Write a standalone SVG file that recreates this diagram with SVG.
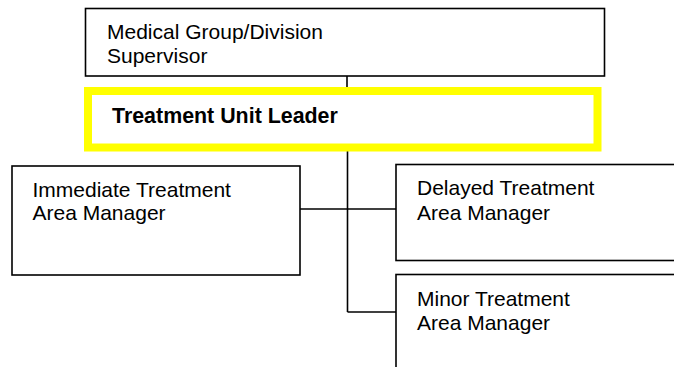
<svg xmlns="http://www.w3.org/2000/svg" width="674" height="367" viewBox="0 0 674 367">
<style>
.box{fill:#fff;stroke:#000;stroke-width:1.6}
.lead{fill:#fff;stroke:#ffff00;stroke-width:8}
.t{font-family:"Liberation Sans",Arial,sans-serif;font-size:21px;fill:#000}
.b{font-weight:bold;font-size:21.4px}
.c{fill:none;stroke:#000;stroke-width:1.6}
</style>
<rect width="674" height="367" fill="#fff"/>
<g id="connectors">
<line class="c" x1="347" y1="76" x2="347" y2="88"/>
<line class="c" x1="347.5" y1="151" x2="347.5" y2="312"/>
<line class="c" x1="300" y1="209" x2="396" y2="209"/>
<line class="c" x1="347.5" y1="312" x2="396" y2="312"/>
</g>
<g id="supervisor">
<rect class="box" x="85.5" y="8.5" width="519" height="67.5"/>
<text class="t" x="107" y="39.3">Medical Group/Division</text>
<text class="t" x="107" y="62.5">Supervisor</text>
</g>
<g id="leader">
<rect class="lead" x="88" y="91" width="509.5" height="56.5"/>
<text class="t b" x="112" y="122.7">Treatment Unit Leader</text>
</g>
<g id="immediate">
<rect class="box" x="12" y="166" width="288" height="109"/>
<text class="t" x="32.5" y="196.7">Immediate Treatment</text>
<text class="t" x="32.5" y="220.3">Area Manager</text>
</g>
<g id="delayed">
<rect class="box" x="396" y="164.5" width="300" height="96"/>
<text class="t" x="417" y="195.3">Delayed Treatment</text>
<text class="t" x="417" y="219.7">Area Manager</text>
</g>
<g id="minor">
<rect class="box" x="396" y="274.5" width="300" height="110"/>
<text class="t" x="417" y="306.3">Minor Treatment</text>
<text class="t" x="417" y="330">Area Manager</text>
</g>
</svg>
